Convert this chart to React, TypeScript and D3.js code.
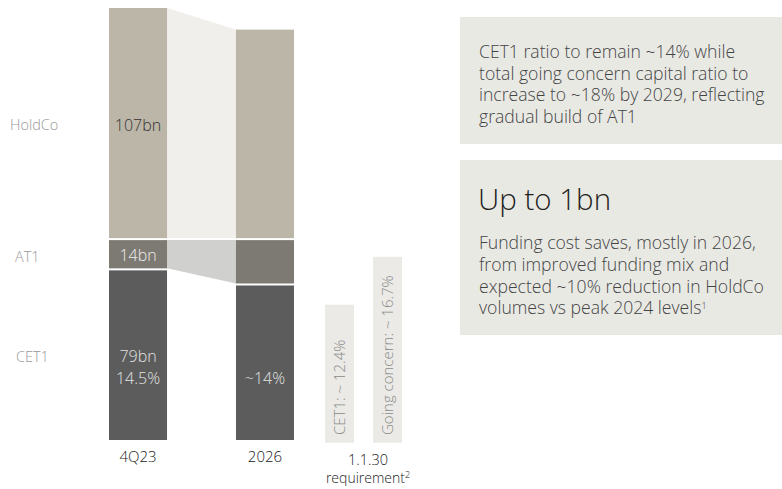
import React from "react";
import * as d3 from "d3";

// capital stack, bn
const periods = ["4Q23", "2026"];
const cet1 = [79, 72];
const at1 = [14, 21];
const holdco = [107, 97];
const layerNames = ["CET1", "AT1", "HoldCo"];
const barLabels = [
  ["79bn|14.5%", "14bn", "107bn"],
  ["~14%", "", ""],
];

// 1.1.30 requirement, %
const reqNames = ["CET1", "Going concern"];
const reqValues = [12.4, 16.7];
const reqLabels = ["CET1: ~ 12.4%", "Going concern: ~ 16.7%"];

const box1Lines = [
  "CET1 ratio to remain ~14% while",
  "total going concern capital ratio to",
  "increase to ~18% by 2029, reflecting",
  "gradual build of AT1",
];
const box2Title = "Up to 1bn";
const box2Lines = [
  "Funding cost saves, mostly in 2026,",
  "from improved funding mix and",
  "expected ~10% reduction in HoldCo",
  "volumes vs peak 2024 levels",
];

const W = 782;
const H = 489;
const FONT = "'Open Sans', 'Noto Sans', sans-serif";
const layerColors = ["#5b5c5b", "#7c7a72", "#bbb6a7"];
const labelColors = ["#e2e2e2", "#eeeeee", "#333333"];

export default function App() {
  const x = d3.scaleBand().domain(periods).range([109, 294]).paddingInner(0.543);
  const y = d3.scaleLinear().domain([0, 200]).range([440, 8]);
  const xr = d3.scaleBand().domain(reqNames).range([325, 402]).paddingInner(0.396);
  const yr = d3.scaleLinear().domain([0, 20]).range([442.7, 220.1]);

  const rows = periods.map((p, i) => ({ p, CET1: cet1[i], AT1: at1[i], HoldCo: holdco[i] }));
  const stack = d3.stack<any>().keys(layerNames)(rows);

  const bw = x.bandwidth();
  const x0 = (x(periods[0]) as number) + bw;
  const x1 = x(periods[1]) as number;
  const hold = stack[2];
  const a1 = stack[1];

  const topConn = [
    [x0, y(hold[0][1])],
    [x1, y(hold[1][1])],
    [x1, y(hold[1][0]) - 1],
    [x0, y(hold[0][0]) - 1],
  ];
  const atConn = [
    [x0, y(a1[0][1]) + 1],
    [x1, y(a1[1][1]) + 1],
    [x1, y(a1[1][0]) - 1],
    [x0, y(a1[0][0]) - 1],
  ];
  const poly = (pts: number[][]) => "M" + pts.map((d) => d.join(",")).join("L") + "Z";

  return (
    <>
      <style>{`body{margin:0}`}</style>
      <svg width={W} height={H} style={{ display: "block", background: "#fff" }} fontFamily={FONT} fontWeight={300}>
        <path d={poly(topConn)} fill="#f0efeb" />
        <path d={poly(atConn)} fill="#d0d0cf" />

        {stack.map((layer, li) =>
          layer.map((d, i) => {
            const top = y(d[1]) + (li === 2 ? 0 : 1);
            const bottom = y(d[0]) - (li === 0 ? 0 : 1);
            const lab = barLabels[i][li];
            const cx = (x(periods[i]) as number) + bw / 2;
            const lines = lab ? lab.split("|") : [];
            return (
              <g key={li + "-" + i}>
                <rect x={x(periods[i])} y={top} width={bw} height={bottom - top} fill={layerColors[li]} />
                {li === 0 && i === 1 ? (
                  <text x={cx} y={378.3} dy="0.35em" textAnchor="middle" fontSize={16} fill={labelColors[li]}>
                    {lab}
                  </text>
                ) : (
                  lines.map((t, k) => (
                    <text
                      key={k}
                      x={cx}
                      y={li === 0 ? 356.7 + k * 21.6 : li === 1 ? 255 : 125}
                      dy="0.35em"
                      textAnchor="middle"
                      fontSize={16}
                      fill={labelColors[li]}
                    >
                      {t}
                    </text>
                  ))
                )}
              </g>
            );
          })
        )}

        {layerNames.map((n, i) => (
          <text
            key={n}
            x={[16, 15, 10][i]}
            y={[356.7, 256.7, 124.5][i]}
            dy="0.35em"
            fontSize={14.5}
            fill="#999"
          >
            {n}
          </text>
        ))}

        {periods.map((p) => (
          <text
            key={p}
            x={(x(p) as number) + bw / 2}
            y={457}
            dy="0.35em"
            textAnchor="middle"
            fontSize={15}
            fill="#222"
          >
            {p}
          </text>
        ))}

        {reqNames.map((n, i) => {
          const bx = xr(n) as number;
          const cx = bx + xr.bandwidth() / 2;
          return (
            <g key={n}>
              <rect x={bx} y={yr(reqValues[i])} width={xr.bandwidth()} height={yr(0) - yr(reqValues[i])} fill="#ebeae6" />
              <text
                transform={`translate(${cx},435) rotate(-90)`}
                dy="0.35em"
                fontSize={15}
                fill="#8a8a8a"
              >
                {reqLabels[i]}
              </text>
            </g>
          );
        })}
        <text x={368} y={460} dy="0.35em" textAnchor="middle" fontSize={14.5} fill="#222">
          1.1.30
        </text>
        <text x={368} y={478} dy="0.35em" textAnchor="middle" fontSize={14} fill="#222">
          requirement<tspan fontSize={9} dy="-0.6em">2</tspan>
        </text>

        <rect x={460} y={17} width={322} height={127} fill="#e9e9e4" />
        {box1Lines.map((t, i) => (
          <text key={i} x={479} y={51.7 + i * 21.7} dy="0.35em" fontSize={17.6} fill="#444">
            {t}
          </text>
        ))}

        <rect x={460} y={160} width={322} height={175} fill="#e9e9e4" />
        <text x={478} y={200} dy="0.35em" fontSize={29.5} fill="#222">
          {box2Title}
        </text>
        {box2Lines.map((t, i) => (
          <text key={i} x={479} y={243 + i * 21.7} dy="0.35em" fontSize={17.6} fill="#444">
            {t}
            {i === box2Lines.length - 1 ? <tspan fontSize={9} dy="-0.6em">1</tspan> : null}
          </text>
        ))}
      </svg>
    </>
  );
}
